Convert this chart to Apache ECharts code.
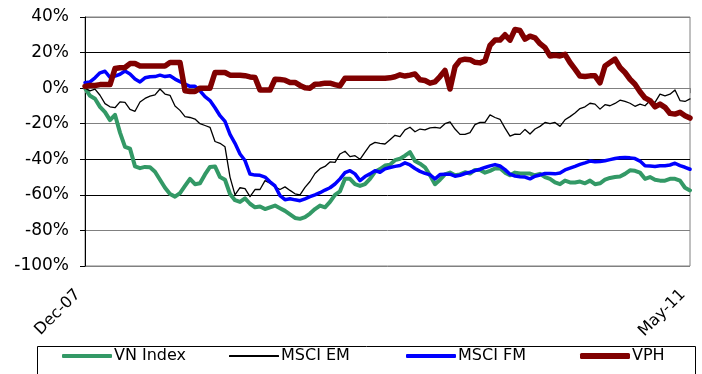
<!DOCTYPE html>
<html>
<head>
<meta charset="utf-8">
<script src="https://cdn.jsdelivr.net/npm/echarts@6/dist/echarts.min.js"></script>
<style>
  html, body { margin: 0; padding: 0; background: #fff; }
  #chart { width: 702px; height: 374px; }
</style>
</head>
<body>
<div id="chart"></div>
<script>
// Cumulative performance since Dec-07 (%), sampled at even intervals to May-11
const vnIndex = [
  0, -4.3, -6, -10.5, -13.5, -18, -15, -25, -33, -34, -44, -45, -44.3, -44.5, -47, -51.5,
  -56, -59.5, -61, -59, -55, -51, -54, -53.5, -48.5, -44.3, -44, -50, -51.5, -59.5, -63,
  -64, -62, -65, -67, -66.5, -68, -67, -66, -67.5, -69, -71, -73, -73.5, -72.5, -70.5,
  -68, -66, -67, -64, -60, -58, -51, -51, -54, -55, -54, -51, -47, -45.5, -43.5,
  -43, -40.5, -39.7, -38, -36, -41, -42.5, -44.5, -49, -54, -51.5, -48.5, -47.5, -49, -48.5,
  -47.3, -48, -46, -46, -47.5, -46.5, -45.2, -45, -47.5, -49, -47.5, -48, -48, -48, -49, -48.2,
  -50, -51, -53, -54, -52, -53, -53, -52.5, -53.5, -52, -54, -53.5, -51.5, -50.5, -50,
  -49.7, -48.2, -46.2, -46.5, -47.5, -51, -50, -51.5, -52, -52, -51, -51, -52, -56, -57.5
];
const msciEM = [
  0, -1.5, -0.6, -4, -8.7, -10.5, -11, -7.7, -8, -12, -13, -7.8, -5.8, -4.5, -3.8, -0.5,
  -3.3, -4, -10, -12.5, -16, -16.5, -17.4, -20, -21, -22, -30, -31, -33, -50, -60,
  -56, -56.5, -61, -57, -57, -52, -53.5, -55.5, -57, -55.5, -57.5, -59.4, -60, -55.8, -52.5,
  -48, -45.3, -44, -41.5, -41.7, -37, -35.5, -38.5, -38, -40, -36, -32, -30.5, -31, -31.4,
  -29, -26.5, -27.2, -23.5, -22, -24.5, -23, -23.5, -22.3, -22, -22.5, -20, -19, -23, -26,
  -26, -25, -20.5, -19.3, -19.3, -15, -16.5, -17.5, -22.5, -27, -25.8, -26, -23.2, -25.8, -23, -21.5,
  -19.3, -20, -19.3, -21.5, -17.8, -16, -14, -11.5, -10.5, -8.5, -9, -11.8, -9.3, -9.9, -8.6,
  -6.8, -7.5, -8.5, -10.2, -9, -9.9, -7.1, -8, -3.4, -4.3, -3.4, -1, -7, -7.5, -6
];
const msciFM = [
  3, 3.5, 5.8, 8.6, 9.5, 6.1, 6.8, 7.8, 9.6, 8, 5.2, 3.5, 5.8, 6.4, 6.5, 7.3,
  6.5, 7, 5.1, 3.7, 2.3, 1, 1, -1.5, -4.8, -7, -11, -15.5, -18.7, -26, -31,
  -37, -40.7, -48.3, -48.9, -49, -50, -52.7, -55, -60.4, -62.7, -62.2, -62.8, -63.3, -62.2, -61,
  -60, -58.8, -57.3, -56, -53.9, -51, -47.5, -46.4, -48.2, -52, -49.7, -48.2, -46.4, -47.3, -45.4,
  -44.6, -44, -43.5, -42, -43.2, -45.2, -46.8, -47.9, -48.7, -51, -48.6, -48.4, -48.4, -49.5, -49,
  -48, -47.3, -46.4, -45.6, -44.6, -43.7, -43, -43.8, -45.8, -48.4, -49.4, -49.8, -50, -51, -49.5, -48.8,
  -48, -48, -48.2, -47.7, -46, -45, -44, -42.9, -42, -41, -41.4, -41.2, -40.8, -40.2, -39.6,
  -39.1, -39, -39.2, -39.6, -41, -43.6, -43.8, -44, -43.6, -43.6, -43.2, -42.2, -43.6, -44.5, -45.6
];
const vph = [
  1, 1.5, 1.5, 2, 2, 2, 11, 11.5, 11.6, 13.8, 13.8, 12.5, 12.5, 12.5, 12.5, 12.5,
  12.5, 14.4, 14.4, 14.4, -1.5, -1.9, -1.9, 0, 0, 0, 8.8, 8.8, 8.8, 7.3, 7.3,
  7.3, 7, 6.3, 6, -1.1, -1.1, -1.1, 5, 4.8, 4.5, 3.2, 3.2, 1.5, 0.2, 0,
  2.2, 2.3, 2.8, 2.8, 2, 1.3, 5.6, 5.6, 5.6, 5.6, 5.6, 5.6, 5.6, 5.6, 5.6,
  5.8, 6.4, 7.5, 6.8, 7.3, 8, 4.7, 4.3, 2.8, 3.5, 6.5, 10, -0.5, 12, 15.6,
  16.3, 16, 14.5, 14.2, 15.3, 24, 27, 27, 30, 27, 33, 32.4, 27.5, 29.2, 28.3, 25,
  22.8, 18.1, 18.5, 18.1, 19, 14.4, 10.7, 6.8, 6.5, 6.9, 6.9, 3, 12.5, 14.4, 16.3,
  11.6, 8.8, 5, 2.2, -2, -5.5, -7, -10.5, -9, -10.8, -14.2, -14.6, -13.6, -15.5, -16.8
];

// Only the first and last periods carry a tick label
const tickLabels = ['Dec-07', 'May-11'];
const categories = vnIndex.map((_, i) =>
  i === 0 ? tickLabels[0] : (i === vnIndex.length - 1 ? tickLabels[1] : ''));

const seriesNames = ['VN Index', 'MSCI EM', 'MSCI FM', 'VPH'];
const seriesData = [vnIndex, msciEM, msciFM, vph];
const colors = ['#339966', '#000000', '#0000ff', '#800000'];
const widths = [4, 1.3, 3.5, 5.5];
const legendLeft = [62, 229, 406, 580];
const legendIconH = [4, 2, 4, 6];

const FONT = 'DejaVu Sans';
const showTick = (idx, val) => val !== '';

const chart = echarts.init(document.getElementById('chart'), null, { renderer: 'canvas' });
chart.setOption({
  animation: false,
  backgroundColor: '#ffffff',
  grid: {
    left: 85, right: 12, top: 17, bottom: 108,
    show: true, borderColor: '#808080', borderWidth: 1, backgroundColor: 'transparent'
  },
  xAxis: {
    type: 'category',
    boundaryGap: false,
    data: categories,
    axisLine: { lineStyle: { color: '#808080', width: 1 } },
    axisTick: { show: true, interval: showTick, length: 5, lineStyle: { color: '#808080' } },
    axisLabel: {
      interval: showTick,
      rotate: 45,
      margin: 19,
      padding: [0, 10, 0, 0],
      fontFamily: FONT,
      fontSize: 16,
      color: '#000'
    },
    splitLine: { show: false }
  },
  yAxis: {
    type: 'value',
    min: -100, max: 40, interval: 20,
    axisLine: { show: true, lineStyle: { color: '#000', width: 1 } },
    axisTick: { show: true, length: 5, lineStyle: { color: '#000' } },
    axisLabel: {
      formatter: '{value}%',
      margin: 16,
      fontFamily: FONT,
      fontSize: 17,
      color: '#000'
    },
    splitLine: {
      show: true,
      lineStyle: { color: ['#808080', '#808080', '#000', '#000', '#808080', '#808080', '#000', '#808080'], width: 1 }
    }
  },
  legend: seriesNames.map((name, k) => ({
    data: [name],
    left: legendLeft[k],
    top: 348,
    padding: 0,
    icon: 'roundRect',
    itemWidth: 50,
    itemHeight: legendIconH[k],
    itemGap: 0,
    textStyle: { fontFamily: FONT, fontSize: 16, color: '#000', padding: [0, 0, 0, -3] },
    selectedMode: false
  })),
  graphic: [{
    type: 'rect',
    shape: { x: 37.5, y: 346.5, width: 658, height: 40 },
    style: { fill: 'none', stroke: '#000', lineWidth: 1 },
    silent: true,
    z: 0
  }],
  series: seriesNames.map((name, k) => ({
    name: name,
    type: 'line',
    data: seriesData[k],
    symbol: 'none',
    smooth: false,
    itemStyle: { color: colors[k] },
    lineStyle: { color: colors[k], width: widths[k], cap: 'round', join: 'round' },
    z: 2 + k
  }))
});
</script>
</body>
</html>
